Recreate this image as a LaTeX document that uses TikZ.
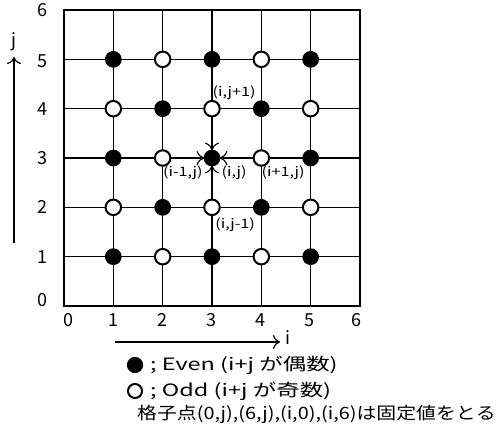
\documentclass[tikz,border=0pt]{standalone}
\usepackage{fontspec}
\setmainfont{Noto Sans CJK JP}
\usetikzlibrary{arrows.meta}
\newcommand{\wide}[2]{\scalebox{#1}[1]{#2}}
\begin{document}
\begin{tikzpicture}[x=1pt,y=-1pt,
  even/.style={circle,fill=black,draw=black,line width=1.2pt,minimum size=15.5pt,inner sep=0pt},
  odd/.style={circle,fill=white,draw=black,line width=2pt,minimum size=15.5pt,inner sep=0pt},
  gridline/.style={line width=1.2pt},
  num/.style={font=\fontsize{18}{18}\selectfont},
  lbl/.style={font=\fontsize{13}{13}\selectfont, inner sep=1pt},
  flow/.style={-{To[length=8pt,width=14pt]}, line width=1.1pt, shorten >=-1pt},
  axis/.style={-{To[length=7pt,width=14pt]}, line width=1.2pt},
  legend/.style={font=\fontsize{17}{17}\selectfont, anchor=west, inner sep=0pt}
]
\useasboundingbox (0,0) rectangle (498,430);
\begin{scope}[shift={(64,306)}, x=49.33pt, y=49.33pt]
  \foreach \k in {1,...,5} {
    \draw[gridline] (\k,0) -- (\k,6);
    \draw[gridline] (0,\k) -- (6,\k);
  }
  \draw[line width=1.5pt] (0,0) rectangle (6,6);
  \foreach \a in {1,...,5} {
    \foreach \b in {1,...,5} {
      \pgfmathtruncatemacro\s{mod(\a+\b,2)}
      \ifnum\s=0
        \node[even] (p\a\b) at (\a,\b) {};
      \else
        \node[odd] (p\a\b) at (\a,\b) {};
      \fi
    }
  }
  \draw[flow] (p34) -- (p33);
  \draw[flow] (p23) -- (p33);
  \draw[flow] (p43) -- (p33);
  \draw[flow] (p32) -- (p33);
  \node[lbl] (l1) at (3.45,4.32) {\wide{1.25}{(i,j+1)}};
  \node[lbl] (l2) at (2.41,2.70) {\wide{1.25}{(i-1,j)}};
  \node[lbl] (l3) at (3.45,2.70) {\wide{1.25}{(i,j)}};
  \node[lbl] (l4) at (4.44,2.70) {\wide{1.25}{(i+1,j)}};
  \node[lbl] (l5) at (3.47,1.64) {\wide{1.25}{(i,j-1)}};
  \foreach \k/\xx in {0/0.1,1/1.01,2/2,3/3,4/3.98,5/4.97,6/5.92} {
    \node[num] (xl\k) at (\xx,-0.29) {\k};
  }
  \foreach \k/\yy in {0/0.12,1/1,2/2,3/3,4/4,5/4.97,6/6} {
    \node[num] (yl\k) at (-0.43,\yy) {\k};
  }
\end{scope}
\coordinate (ia) at (115,342);
\coordinate (ib) at (280,342);
\draw[axis] (ia) -- (ib);
\node[num] (ilab) at (288,338) {i};
\coordinate (ja) at (14,243);
\coordinate (jb) at (14,57);
\draw[axis] (ja) -- (jb);
\node[num] (jlab) at (14,42) {j};
\node[even, minimum size=15pt] (le) at (135,365) {};
\node[legend] (let) at (150,365) {\wide{1.38}{; Even (i+j が偶数)}};
\node[odd, minimum size=14pt] (lo) at (135,391) {};
\node[legend] (lot) at (150,391) {\wide{1.38}{; Odd (i+j が奇数)}};
\node[legend] (note) at (137,414) {\wide{1.17}{格子点(0,j),(6,j),(i,0),(i,6)は固定値をとる}};
\end{tikzpicture}
\end{document}
